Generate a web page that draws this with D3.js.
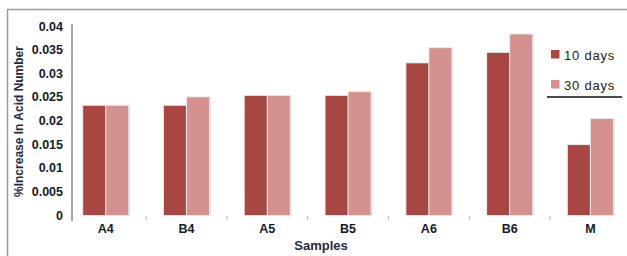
<!DOCTYPE html>
<html>
<head>
<meta charset="utf-8">
<script src="https://cdn.jsdelivr.net/npm/d3@7"></script>
<style>
  body { margin: 0; background: #fff; }
  svg { display: block; }
</style>
</head>
<body>
<div id="chart"></div>
<script>
// chart data
var samples = ["A4", "B4", "A5", "B5", "A6", "B6", "M"];
var seriesNames = ["10 days", "30 days"];
var days10 = [0.0231, 0.0231, 0.0252, 0.0252, 0.0321, 0.0343, 0.0148];
var days30 = [0.0231, 0.0249, 0.0252, 0.026, 0.0353, 0.0382, 0.0203];
var yTicks = [0, 0.005, 0.01, 0.015, 0.02, 0.025, 0.03, 0.035, 0.04];
var yTickLabels = ["0", "0.005", "0.01", "0.015", "0.02", "0.025", "0.03", "0.035", "0.04"];

var colors = ["#a84644", "#d49190"];

function drawChart()
{
	var width = 627;
	var height = 256;

	var svg = d3.select("#chart")
		.append("svg")
		.attr("width", width)
		.attr("height", height);

	// outer frame (runs off the right and bottom edge)
	svg.append("rect")
		.attr("x", 7.5)
		.attr("y", 9.5)
		.attr("width", 700)
		.attr("height", 300)
		.attr("fill", "none")
		.attr("stroke", "#9a9a9a")
		.attr("stroke-width", 1.5);

	var y = d3.scaleLinear()
		.domain([0, 0.04])
		.range([215, 26]);

	var x0 = d3.scaleBand()
		.domain(samples)
		.range([65.3, 630.8])
		.paddingInner(0.443)
		.paddingOuter(0.2215);

	var x1 = d3.scaleBand()
		.domain(seriesNames)
		.range([0, x0.bandwidth()])
		.paddingInner(0.05);

	var rows = samples.map(function(s, i)
	{
		return { name: s, values: [days10[i], days30[i]] };
	});

	var groups = svg.append("g")
		.selectAll("g")
		.data(rows)
		.join("g")
		.attr("transform", function(d) { return "translate(" + x0(d.name) + ",0)"; });

	// soft shadow behind each bar
	groups.selectAll("rect.shadow")
		.data(function(d) { return d.values; })
		.join("rect")
		.attr("class", "shadow")
		.attr("x", function(d, i) { return x1(seriesNames[i]) - 1; })
		.attr("y", function(d) { return y(d) - 1; })
		.attr("width", x1.bandwidth() + 3)
		.attr("height", function(d) { return y(0) - y(d) + 2; })
		.attr("fill", "#e6e6e6");

	groups.selectAll("rect.bar")
		.data(function(d) { return d.values; })
		.join("rect")
		.attr("class", "bar")
		.attr("x", function(d, i) { return x1(seriesNames[i]); })
		.attr("y", function(d) { return y(d); })
		.attr("width", x1.bandwidth())
		.attr("height", function(d) { return y(0) - y(d); })
		.attr("fill", function(d, i) { return colors[i]; });

	// y axis
	var yAxis = d3.axisLeft(y)
		.tickValues(yTicks)
		.tickFormat(function(d, i) { return yTickLabels[i]; })
		.tickSize(0)
		.tickPadding(9);

	var gy = svg.append("g")
		.attr("transform", "translate(72,0)")
		.call(yAxis);
	gy.select(".domain").remove();
	gy.selectAll("text")
		.attr("font-family", "Arial, 'Liberation Sans', sans-serif")
		.attr("font-weight", "bold")
		.attr("font-size", "12.5px")
		.attr("fill", "#151a2a");

	svg.append("line")
		.attr("x1", 72).attr("x2", 72)
		.attr("y1", 24).attr("y2", 221)
		.attr("stroke", "#a8a8a8")
		.attr("stroke-width", 2);

	// x axis labels and small separators
	var xAxis = d3.axisBottom(x0).tickSize(0).tickPadding(9);
	var gx = svg.append("g")
		.attr("transform", "translate(0,215)")
		.call(xAxis);
	gx.select(".domain").remove();
	gx.selectAll("text")
		.attr("font-family", "Arial, 'Liberation Sans', sans-serif")
		.attr("font-weight", "bold")
		.attr("font-size", "12.5px")
		.attr("fill", "#151a2a");

	svg.append("g")
		.selectAll("line")
		.data(samples.slice(1))
		.join("line")
		.attr("x1", function(d) { return x0(d) - x0.step() * x0.paddingOuter(); })
		.attr("x2", function(d) { return x0(d) - x0.step() * x0.paddingOuter(); })
		.attr("y1", 216)
		.attr("y2", 220)
		.attr("stroke", "#b5b5b5")
		.attr("stroke-width", 1);

	// axis titles
	svg.append("text")
		.attr("transform", "translate(23,121.5) rotate(-90)")
		.attr("text-anchor", "middle")
		.attr("font-family", "Arial, 'Liberation Sans', sans-serif")
		.attr("font-weight", "bold")
		.attr("font-size", "12px")
		.attr("fill", "#1f2a44")
		.text("%Increase In Acid Number");

	svg.append("text")
		.attr("x", 321)
		.attr("y", 250)
		.attr("text-anchor", "middle")
		.attr("font-family", "Arial, 'Liberation Sans', sans-serif")
		.attr("font-weight", "bold")
		.attr("font-size", "13px")
		.attr("fill", "#1f2a44")
		.text("Samples");

	// legend
	var legend = svg.append("g")
		.selectAll("g")
		.data(seriesNames)
		.join("g")
		.attr("transform", function(d, i) { return "translate(551," + (50 + i * 30) + ")"; });

	legend.append("rect")
		.attr("width", 8.5)
		.attr("height", 8.5)
		.attr("fill", function(d, i) { return colors[i]; });

	legend.append("text")
		.attr("x", 13)
		.attr("y", 9.5)
		.attr("font-family", "'Liberation Sans', Arial, sans-serif")
		.attr("font-size", "13px")
		.attr("letter-spacing", "0.8px")
		.attr("fill", "#222")
		.text(function(d) { return d; });

	svg.append("line")
		.attr("x1", 547).attr("x2", 622)
		.attr("y1", 97).attr("y2", 97)
		.attr("stroke", "#111")
		.attr("stroke-width", 1.5);
}

drawChart();
</script>
</body>
</html>
